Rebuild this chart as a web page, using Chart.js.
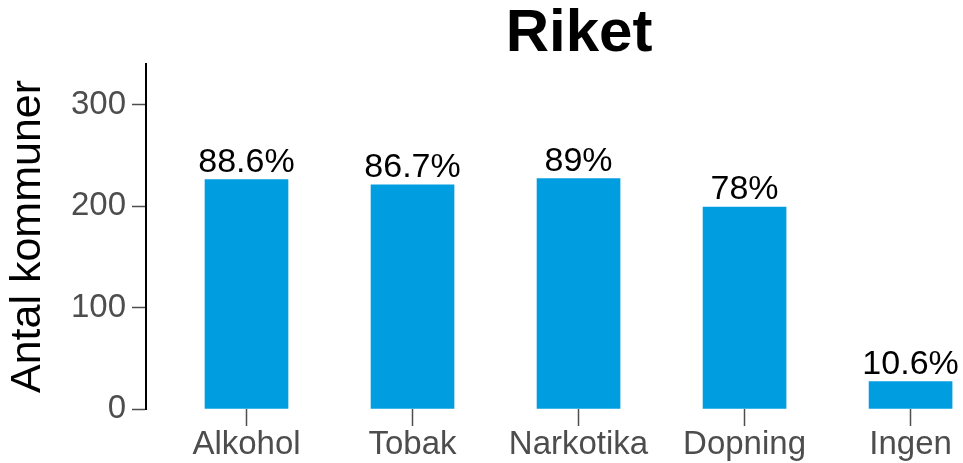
<!DOCTYPE html>
<html><head><meta charset="utf-8">
<script src="https://cdn.jsdelivr.net/npm/chart.js@4"></script>
<style>
html,body{margin:0;padding:0;background:#fff;overflow:hidden;width:963px;height:463px;}
#wrap{width:1100px;height:463px;position:relative;}
</style></head>
<body>
<div id="wrap"><canvas id="c" width="1100" height="463"></canvas></div>
<script>
const categories = ["Alkohol", "Tobak", "Narkotika", "Dopning", "Ingen"];
const counts = [226, 221, 227, 199, 27];
const percents = [88.6, 86.7, 89, 78, 10.6];
const yTicks = [0, 100, 200, 300];
const chartTitle = "Riket";
const yTitle = "Antal kommuner";

const FONT = "'Liberation Sans', Arial, sans-serif";
const barLabels = {
  id: 'barLabels',
  afterDatasetsDraw(chart) {
    const ctx = chart.ctx;
    const meta = chart.getDatasetMeta(0);
    ctx.save();
    ctx.font = "34px " + FONT;
    ctx.fillStyle = "#000";
    ctx.textAlign = "center";
    ctx.textBaseline = "alphabetic";
    meta.data.forEach((bar, i) => {
      ctx.fillText(String(percents[i]) + "%", bar.x, bar.y - 8);
    });
    ctx.restore();
  }
};

new Chart(document.getElementById('c'), {
  type: 'bar',
  data: {
    datasets: [{
      data: counts.map((v, i) => ({x: i, y: v})),
      backgroundColor: '#009ee0',
      borderWidth: 0,
      barThickness: 83
    }]
  },
  plugins: [barLabels],
  options: {
    responsive: false,
    animation: false,
    events: [],
    layout: {padding: {left: 0, right: 88, top: 0, bottom: 0}},
    plugins: {
      legend: {display: false},
      tooltip: {enabled: false},
      title: {
        display: true,
        text: chartTitle,
        fullSize: false,
        color: '#000',
        font: {family: FONT, size: 60, weight: 'bold', lineHeight: 1.0},
        padding: {top: 4, bottom: 0}
      }
    },
    scales: {
      x: {
        type: 'linear',
        min: -0.6054,
        max: 4.611,
        offset: false,
        afterBuildTicks: s => { s.ticks = categories.map((_, i) => ({value: i})); },
        ticks: {
          callback: v => categories[v] ?? '',
          color: '#4d4d4d',
          font: {family: FONT, size: 33, lineHeight: 1.0},
          padding: 2,
          maxRotation: 0,
          autoSkip: false
        },
        grid: {display: true, offset: false, drawOnChartArea: false, drawTicks: true, tickLength: 17, tickColor: '#4d4d4d', tickWidth: 1.5},
        border: {display: false}
      },
      y: {
        min: 0,
        max: 340,
        afterBuildTicks: s => { s.ticks = yTicks.map(v => ({value: v})); },
        afterFit: s => { s.width = 146; },
        ticks: {
          color: '#4d4d4d',
          font: {family: FONT, size: 33, lineHeight: 1.0},
          padding: 6
        },
        grid: {display: true, drawOnChartArea: false, drawTicks: true, tickLength: 14, tickColor: '#4d4d4d', tickWidth: 1.5},
        border: {display: true, color: '#000', width: 2},
        title: {
          display: true,
          text: yTitle,
          color: '#000',
          font: {family: FONT, size: 43, lineHeight: 1.0},
          padding: {top: 7, bottom: 0}
        }
      }
    }
  }
});
</script>
</body></html>
